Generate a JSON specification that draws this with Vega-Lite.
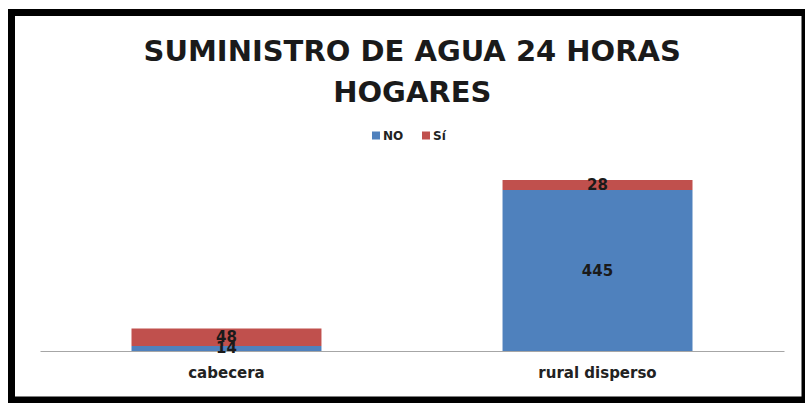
{
  "$schema": "https://vega.github.io/schema/vega-lite/v6.json",
  "autosize": {"type": "none"},
  "padding": {"left": 11.5, "top": 12.5, "right": 0, "bottom": 3},
  "width": 793.5,
  "height": 387.5,
  "background": "white",
  "view": {"stroke": "black", "strokeWidth": 7, "fill": "white"},
  "title": {
    "text": ["SUMINISTRO DE AGUA 24 HORAS", "HOGARES"],
    "font": "DejaVu Sans",
    "fontSize": 29,
    "fontWeight": "bold",
    "color": "#1a1a1a",
    "lineHeight": 41,
    "anchor": "middle",
    "dx": 4,
    "offset": -95
  },
  "data": {
    "values": [
      {"zona": "cabecera", "serie": "NO", "valor": 14},
      {"zona": "cabecera", "serie": "Sí", "valor": 48},
      {"zona": "rural disperso", "serie": "NO", "valor": 445},
      {"zona": "rural disperso", "serie": "Sí", "valor": 28}
    ]
  },
  "transform": [
    {"stack": "valor", "groupby": ["zona"], "sort": [{"field": "serie", "order": "ascending"}], "as": ["v0", "v1"]}
  ],
  "encoding": {
    "x": {
      "field": "zona",
      "type": "nominal",
      "sort": ["cabecera", "rural disperso"],
      "scale": {"range": [28.5, 772.5], "paddingInner": 0.488, "paddingOuter": 0.2466},
      "axis": {
        "title": null,
        "labelAngle": 0,
        "labelFont": "DejaVu Sans",
        "labelFontWeight": "bold",
        "labelFontSize": 15,
        "labelColor": "#222222",
        "labelPadding": 14,
        "ticks": false,
        "domainColor": "#a6a6a6",
        "domainWidth": 1,
        "offset": -49,
        "grid": false
      }
    }
  },
  "layer": [
    {
      "mark": {"type": "bar"},
      "encoding": {
        "y": {
          "field": "v0",
          "type": "quantitative",
          "scale": {"domain": [0, 936], "range": [338.5, 0], "nice": false},
          "axis": null
        },
        "y2": {"field": "v1"},
        "color": {
          "field": "serie",
          "type": "nominal",
          "scale": {"domain": ["NO", "Sí"], "range": ["#4F81BD", "#C0504D"]},
          "legend": {
            "title": null,
            "orient": "none",
            "legendX": 358.5,
            "legendY": 117,
            "direction": "horizontal",
            "symbolType": "square",
            "symbolSize": 64,
            "symbolStrokeWidth": 0,
            "labelFont": "DejaVu Sans",
            "labelFontWeight": "bold",
            "labelFontSize": 12,
            "labelColor": "#222222",
            "labelOffset": 1,
            "columnPadding": 16
          }
        }
      }
    },
    {
      "transform": [{"fold": ["v0", "v1"], "as": ["extremo", "pos"]}],
      "mark": {"type": "text", "font": "DejaVu Sans", "fontWeight": "bold", "fontSize": 15, "color": "#1a1a1a", "baseline": "middle"},
      "encoding": {
        "y": {"aggregate": "mean", "field": "pos", "type": "quantitative"},
        "detail": {"field": "serie", "type": "nominal"},
        "text": {"aggregate": "min", "field": "valor", "type": "quantitative"}
      }
    }
  ]
}
